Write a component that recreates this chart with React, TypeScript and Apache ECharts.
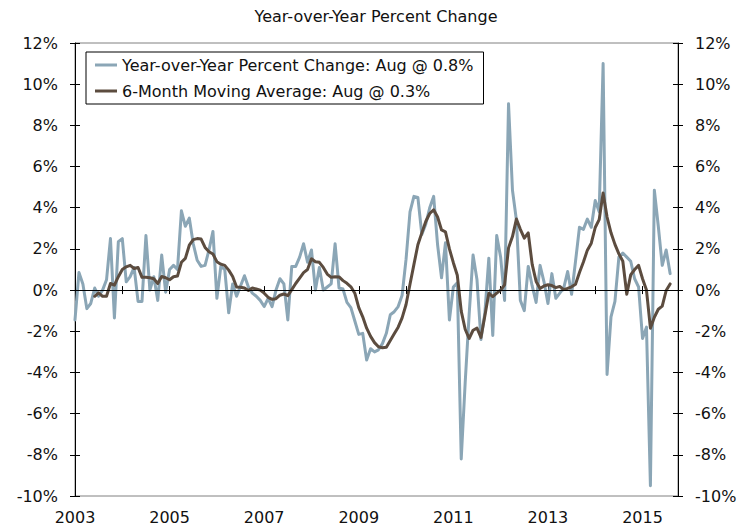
import React, { useEffect, useRef } from 'react';
import * as echarts from 'echarts';

// Monthly categories, Jan 2003 .. Oct 2015 (the axis runs a little past the last data point)
const startYear = 2003;
const endYear = 2015;
const lastMonthOfAxis = 10;
const categories: string[] = [];
for (let y = startYear; y <= endYear; y++) {
  for (let m = 1; m <= 12; m++) {
    if (y === endYear && m > lastMonthOfAxis) break;
    categories.push(`${y}-${m < 10 ? '0' + m : m}`);
  }
}

// Year-over-year percent change, Jan 2003 .. Aug 2015
const yoyChange: number[] = [
  // 2003
  -1.45, 0.85, 0.3, -0.9, -0.65, 0.1, -0.3, 0.0, 0.5, 2.5, -1.35, 2.35,
  // 2004
  2.5, 0.4, 0.65, 1.1, -0.55, -0.55, 2.65, 0.0, 0.65, -0.5, 1.7, -0.1,
  // 2005
  1.0, 1.2, 1.0, 3.85, 3.1, 3.5, 2.25, 1.45, 1.15, 1.2, 1.95, 2.85,
  // 2006
  -0.4, 1.15, 1.0, -1.1, 0.3, -0.3, 0.2, 0.7, 0.15, -0.15, -0.3, -0.5,
  // 2007
  -0.8, -0.4, -0.8, 0.0, 0.55, 0.3, -1.45, 1.15, 1.15, 1.6, 2.25, 1.35,
  // 2008
  1.95, 0.0, 1.1, 0.0, 0.15, 0.3, 2.25, 0.1, 0.05, -0.6, -0.85, -1.5,
  // 2009
  -2.15, -2.1, -3.4, -2.85, -3.0, -2.9, -2.6, -2.1, -1.2, -1.05, -0.8, -0.25,
  // 2010
  1.5, 3.8, 4.55, 4.5, 2.7, 3.2, 4.0, 4.55, 2.2, 0.6, 2.3, -1.45,
  // 2011
  0.15, 0.35, -8.2, -4.5, -1.2, 1.7, 0.5, -2.4, -1.1, 1.55, -2.2, 2.65,
  // 2012
  1.6, -0.5, 9.05, 4.85, 3.4, -0.5, -1.0, 1.15, 0.2, -0.6, 1.2, 0.4,
  // 2013
  -0.65, 0.8, -0.4, -0.15, 0.1, 0.9, -0.2, 1.4, 3.05, 2.95, 3.45, 3.05,
  // 2014
  4.35, 3.8, 11.0, -4.1, -1.3, -0.55, 1.6, 1.8, 1.6, 1.4, 0.55, 0.15,
  // 2015
  -2.35, -1.8, -9.5, 4.85, 3.1, 1.2, 1.95, 0.8,
];

// 6-month moving average (starts Jun 2003)
const movingAvg6: (number | null)[] = [
  // 2003
  null, null, null, null, null, -0.3, -0.13, -0.3, -0.3, 0.32, 0.24, 0.65,
  // 2004
  1.0, 1.13, 1.2, 1.05, 1.1, 0.62, 0.62, 0.6, 0.55, 0.32, 0.66, 0.6,
  // 2005
  0.5, 0.65, 0.68, 1.35, 1.54, 2.18, 2.45, 2.5, 2.48, 2.07, 1.86, 1.75,
  // 2006
  1.38, 1.26, 1.2, 0.97, 0.66, 0.15, 0.14, 0.1, -0.02, 0.1, 0.05, 0.0,
  // 2007
  -0.15, -0.35, -0.45, -0.42, -0.25, -0.19, -0.27, 0.02, 0.32, 0.58, 0.85, 1.0,
  // 2008
  1.52, 1.38, 1.35, 1.1, 0.78, 0.62, 0.65, 0.64, 0.46, 0.33, 0.16, -0.15,
  // 2009
  -0.85, -1.3, -1.85, -2.25, -2.55, -2.75, -2.8, -2.78, -2.45, -2.12, -1.8, -1.35,
  // 2010
  -0.7, 0.28, 1.25, 2.2, 2.78, 3.33, 3.72, 3.9, 3.55, 2.92, 2.83, 2.0,
  // 2011
  1.33, 0.72, -1.02, -1.9, -2.35, -1.95, -1.85, -2.3, -1.25, -0.15, -0.32, -0.15,
  // 2012
  0.0, 0.25, 2.05, 2.6, 3.45, 2.95, 2.52, 2.78, 1.25, 0.42, 0.08, 0.2,
  // 2013
  0.26, 0.22, 0.12, 0.18, 0.02, 0.08, 0.16, 0.28, 0.85, 1.36, 1.94, 2.28,
  // 2014
  3.04, 3.42, 4.72, 3.55, 2.78, 2.22, 1.76, 1.4, -0.2, 0.74, 1.0, 1.2,
  // 2015
  0.55, 0.0, -1.85, -1.32, -0.93, -0.78, -0.02, 0.3,
];

const yoyName = 'Year-over-Year Percent Change: Aug @ 0.8%';
const maName = '6-Month Moving Average: Aug @ 0.3%';
const subtitle = 'Year-over-Year Percent Change';

const FONT = 'DejaVu Sans';
const BLUE = '#8ba6b6';
const BROWN = '#5c4c3f';

export default function App() {
  const ref = useRef<HTMLDivElement>(null);

  useEffect(() => {
    if (!ref.current) return;
    const chart = echarts.init(ref.current, null, { renderer: 'svg' });

    const yearTick = (i: number) => i % 12 === 0;
    const labelTick = (i: number) => i % 24 === 0;

    const yBase = {
      type: 'value',
      min: -10,
      max: 12,
      interval: 2,
      splitLine: { show: false },
    };

    chart.setOption({
      animation: false,
      textStyle: { fontFamily: FONT },
      title: {
        text: subtitle,
        left: 'center',
        top: 3,
        textStyle: { fontSize: 16, fontWeight: 'normal', color: '#111', fontFamily: FONT },
      },
      legend: {
        orient: 'vertical',
        left: 86,
        top: 52,
        padding: [3, 10, 3, 9],
        itemGap: 6,
        itemWidth: 22,
        itemHeight: 3,
        icon: 'rect',
        borderColor: '#000',
        borderWidth: 1,
        backgroundColor: '#fff',
        textStyle: { fontSize: 16, color: '#111', lineHeight: 20, fontFamily: FONT },
        data: [yoyName, maName],
      },
      grid: {
        left: 75,
        right: 74,
        top: 43,
        bottom: 33,
        show: true,
        borderColor: '#808080',
        borderWidth: 1,
      },
      xAxis: [
        {
          type: 'category',
          data: categories,
          boundaryGap: false,
          position: 'bottom',
          axisLine: { show: true, lineStyle: { color: '#000', width: 1 } },
          axisTick: { show: true, interval: yearTick, length: 4, lineStyle: { color: '#000' } },
          axisLabel: {
            interval: labelTick,
            formatter: (v: string) => v.slice(0, 4),
            fontSize: 16,
            color: '#111',
            margin: 13,
            fontFamily: FONT,
          },
          splitLine: { show: false },
        },
        {
          type: 'category',
          data: categories,
          boundaryGap: false,
          position: 'bottom',
          axisLine: { show: false },
          axisTick: { show: true, inside: true, interval: yearTick, length: 4, lineStyle: { color: '#000' } },
          axisLabel: { show: false },
          splitLine: { show: false },
        },
      ],
      yAxis: [
        {
          ...yBase,
          position: 'left',
          axisLine: { show: true, lineStyle: { color: '#000', width: 1 } },
          axisTick: { show: true, length: 5, lineStyle: { color: '#000' } },
          axisLabel: { formatter: '{value}%', fontSize: 16, color: '#111', margin: 17, fontFamily: FONT },
        },
        {
          ...yBase,
          position: 'right',
          axisLine: { show: true, lineStyle: { color: '#000', width: 1 } },
          axisTick: { show: true, length: 5, lineStyle: { color: '#000' } },
          axisLabel: { formatter: '{value}%', fontSize: 16, color: '#111', margin: 17, fontFamily: FONT },
        },
        {
          ...yBase,
          position: 'left',
          axisLine: { show: false },
          axisTick: { show: true, inside: true, length: 5, lineStyle: { color: '#000' } },
          axisLabel: { show: false },
        },
        {
          ...yBase,
          position: 'right',
          axisLine: { show: false },
          axisTick: { show: true, inside: true, length: 5, lineStyle: { color: '#000' } },
          axisLabel: { show: false },
        },
      ],
      series: [
        {
          name: yoyName,
          type: 'line',
          xAxisIndex: 0,
          yAxisIndex: 0,
          data: yoyChange,
          showSymbol: false,
          symbol: 'none',
          lineStyle: { color: BLUE, width: 3, cap: 'round', join: 'round' },
          itemStyle: { color: BLUE },
          markLine: {
            silent: true,
            symbol: 'none',
            label: { show: false },
            lineStyle: { color: '#000', width: 1, type: 'solid' },
            data: [{ yAxis: 0 }],
          },
        },
        {
          name: maName,
          type: 'line',
          xAxisIndex: 0,
          yAxisIndex: 0,
          data: movingAvg6,
          showSymbol: false,
          symbol: 'none',
          lineStyle: { color: BROWN, width: 3, cap: 'round', join: 'round' },
          itemStyle: { color: BROWN },
        },
      ],
    });

    return () => chart.dispose();
  }, []);

  return (
    <div
      ref={ref}
      style={{ position: 'fixed', left: 0, top: 0, width: 752, height: 529, background: '#fff' }}
    />
  );
}
